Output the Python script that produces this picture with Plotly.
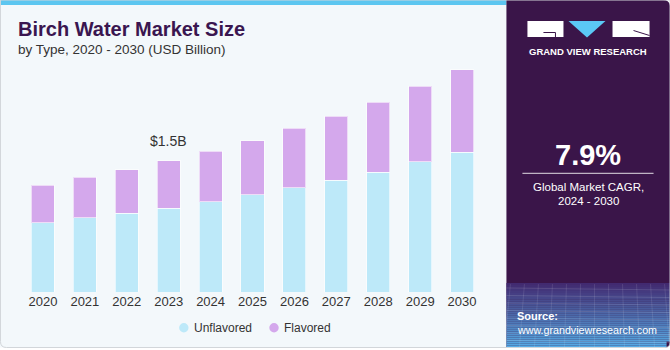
import plotly.graph_objects as go

years = ["2020", "2021", "2022", "2023", "2024", "2025", "2026", "2027", "2028", "2029", "2030"]
unflavored = [0.79, 0.85, 0.90, 0.96, 1.03, 1.11, 1.19, 1.28, 1.37, 1.49, 1.60]
flavored = [0.43, 0.46, 0.50, 0.54, 0.58, 0.62, 0.68, 0.73, 0.80, 0.86, 0.94]
series_names = ["Unflavored", "Flavored"]
highlight_year = "2023"
highlight_label = "$1.5B"
cagr_value = "7.9%"
cagr_label = ["Global Market CAGR,", "2024 - 2030"]

C_UNF = "#bde9f9"
C_FLA = "#d4a8ec"
PURPLE = "#3a1549"
TXT = "#333333"
FONT = "Liberation Sans, Arial, sans-serif"

W, H = 670, 350
L, R, T, B = 22, 482.6, 60, 292
YMAX = (B - T) / 87.5


def xp(px):
    return (px - L) / (R - L)


def yp(py):
    return (B - py) / (B - T)


fig = go.Figure()
fig.add_trace(go.Bar(x=years, y=unflavored, name=series_names[0], marker=dict(color=C_UNF, line=dict(color="rgba(255,255,255,0.6)", width=1)), showlegend=False))
fig.add_trace(go.Bar(x=years, y=flavored, name=series_names[1], marker=dict(color=C_FLA, line=dict(color="rgba(255,255,255,0.6)", width=1)), showlegend=False))

shapes = []
# card background
shapes.append(dict(type="rect", xref="paper", yref="paper", x0=xp(0), x1=xp(506), y0=yp(347.5), y1=yp(0),
                   fillcolor="#f3f8fb", line=dict(width=0), layer="below"))
# top stripe
shapes.append(dict(type="rect", xref="paper", yref="paper", x0=xp(0), x1=xp(506), y0=yp(5), y1=yp(0),
                   fillcolor="#5cc6f0", line=dict(width=0), layer="below"))


def rpath(x0, y0, x1, y1, r_tr=0, r_br=0, r_bl=0):
    pts = []
    pts.append(f"M {xp(x0)},{yp(y0)}")
    pts.append(f"L {xp(x1 - r_tr)},{yp(y0)}")
    if r_tr:
        pts.append(f"Q {xp(x1)},{yp(y0)} {xp(x1)},{yp(y0 + r_tr)}")
    pts.append(f"L {xp(x1)},{yp(y1 - r_br)}")
    if r_br:
        pts.append(f"Q {xp(x1)},{yp(y1)} {xp(x1 - r_br)},{yp(y1)}")
    pts.append(f"L {xp(x0 + r_bl)},{yp(y1)}")
    if r_bl:
        pts.append(f"Q {xp(x0)},{yp(y1)} {xp(x0)},{yp(y1 - r_bl)}")
    pts.append("Z")
    return " ".join(pts)


# right panel
shapes.append(dict(type="path", xref="paper", yref="paper", path=rpath(506, 0, 669.5, 347.5, r_tr=7, r_br=5),
                   fillcolor=PURPLE, line=dict(width=0), layer="below"))
# gradient in source area
n = 32
g0, g1 = 283, 347.5
c0 = (66, 42, 112)
c1 = (86, 172, 230)
for i in range(n):
    t = i / (n - 1)
    c = tuple(int(c0[k] + (c1[k] - c0[k]) * t) for k in range(3))
    ya = g0 + (g1 - g0) * i / n
    yb = g0 + (g1 - g0) * (i + 1) / n
    shapes.append(dict(type="rect", xref="paper", yref="paper", x0=xp(506), x1=xp(669.5 if i < n - 3 else 666),
                       y0=yp(yb), y1=yp(ya), fillcolor=f"rgb{c}", line=dict(width=0), layer="below"))
# faint mesh lines
for k in range(8):
    yy = 288 + k * 7.5
    shapes.append(dict(type="line", xref="paper", yref="paper", x0=xp(506), x1=xp(669), y0=yp(yy), y1=yp(yy + 2),
                       line=dict(color="rgba(255,255,255,0.12)", width=1), layer="below"))
for k in range(12):
    xx = 510 + k * 14
    shapes.append(dict(type="line", xref="paper", yref="paper", x0=xp(xx), x1=xp(xx - 6 + k), y0=yp(284), y1=yp(347),
                       line=dict(color="rgba(255,255,255,0.10)", width=1), layer="below"))
# card outline
shapes.append(dict(type="path", xref="paper", yref="paper", path=rpath(0.5, 0, 669.5, 347.5, r_br=5, r_bl=6),
                   fillcolor="rgba(0,0,0,0)", line=dict(color="#d2d6da", width=1), layer="above"))

# logo
shapes.append(dict(type="rect", xref="paper", yref="paper", x0=xp(527), x1=xp(563), y0=yp(37), y1=yp(21),
                   fillcolor="white", line=dict(width=0)))
shapes.append(dict(type="path", xref="paper", yref="paper",
                   path=f"M {xp(543)},{yp(32.5)} L {xp(555)},{yp(32.5)} L {xp(555)},{yp(37)}",
                   line=dict(color=PURPLE, width=1)))
shapes.append(dict(type="path", xref="paper", yref="paper",
                   path=f"M {xp(568)},{yp(21)} L {xp(605)},{yp(21)} L {xp(586.5)},{yp(37.5)} Z",
                   fillcolor="#5bc8f5", line=dict(width=0)))
shapes.append(dict(type="rect", xref="paper", yref="paper", x0=xp(612), x1=xp(649), y0=yp(37), y1=yp(21),
                   fillcolor="white", line=dict(width=0)))
shapes.append(dict(type="line", xref="paper", yref="paper", x0=xp(633), x1=xp(649), y0=yp(30.5), y1=yp(35.5),
                   line=dict(color=PURPLE, width=1)))
# CAGR separator
shapes.append(dict(type="line", xref="paper", yref="paper", x0=xp(522), x1=xp(653), y0=yp(173.3), y1=yp(173.3),
                   line=dict(color="rgba(255,255,255,0.85)", width=1)))

# legend markers
leg_x = [183.7, 273.8]
leg_text_x = [194, 283.5]
leg_y = 327.7
for cx, col in zip(leg_x, [C_UNF, C_FLA]):
    shapes.append(dict(type="circle", xref="paper", yref="paper", x0=xp(cx - 4.7), x1=xp(cx + 4.7),
                       y0=yp(leg_y + 4.7), y1=yp(leg_y - 4.7), fillcolor=col, line=dict(width=0)))

ann = []


def text(px, py, s, size, color, bold=False, xanchor="left", family=FONT):
    ann.append(dict(xref="paper", yref="paper", x=xp(px), y=yp(py), text=f"<b>{s}</b>" if bold else s,
                    showarrow=False, xanchor=xanchor, yanchor="middle",
                    font=dict(size=size, color=color, family=family)))


text(16, 28.5, "Birch Water Market Size", 20, "#3a1650", bold=True)
text(16, 50, "by Type, 2020 - 2030 (USD Billion)", 13.5, TXT)
text(588, 52, "GRAND VIEW RESEARCH", 9.5, "white", bold=True, xanchor="center")
text(588, 155, cagr_value, 29, "white", bold=True, xanchor="center")
text(588, 186.5, cagr_label[0], 11.5, "white", xanchor="center")
text(588, 201, cagr_label[1], 11.5, "white", xanchor="center")
text(515, 316, "Source:", 11, "white", bold=True)
text(515, 329.5, "www.grandviewresearch.com", 10.7, "white")
for tx, nm in zip(leg_text_x, series_names):
    text(tx - 2, leg_y, nm, 12, TXT)

hi = years.index(highlight_year)
ann.append(dict(x=hi, y=unflavored[hi] + flavored[hi], xref="x", yref="y", text=highlight_label,
                showarrow=False, yanchor="bottom", yshift=10, font=dict(size=14, color=TXT, family=FONT)))

fig.update_layout(
    width=W, height=H, barmode="stack", bargap=0.45,
    margin=dict(l=L, r=W - R, t=T, b=H - B, pad=0),
    paper_bgcolor="white", plot_bgcolor="rgba(0,0,0,0)",
    shapes=shapes, annotations=ann, showlegend=False,
    font=dict(family=FONT, color=TXT),
)
fig.update_xaxes(type="category", range=[-0.5, len(years) - 0.5], showgrid=False, showline=False, zeroline=False,
                 ticks="", tickfont=dict(size=13, color=TXT, family=FONT), fixedrange=True)
fig.update_yaxes(range=[0, YMAX], visible=False, fixedrange=True)

fig.write_html("out.html", config={"displayModeBar": False})
